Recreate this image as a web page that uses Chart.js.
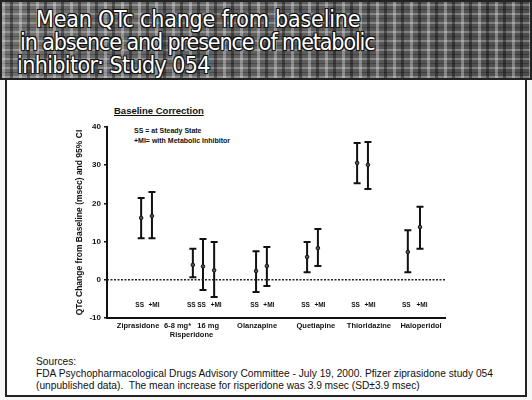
<!DOCTYPE html>
<html>
<head>
<meta charset="utf-8">
<script src="https://cdn.jsdelivr.net/npm/chart.js@4.4.0/dist/chart.umd.min.js"></script>
<style>
  html, body { margin: 0; padding: 0; background: #fff; }
  #slide { position: relative; width: 532px; height: 400px; overflow: hidden; background: #f6f6f6; font-family: "Liberation Sans", Arial, sans-serif; color: #111; }
  #banner {
    position: absolute; left: 0; top: 0; width: 532px; height: 80px; box-sizing: border-box;
    border: 2px solid #222;
    background:
      repeating-linear-gradient(90deg, rgba(255,255,255,0.32) 0 3px, transparent 3px 8px, rgba(0,0,0,0.38) 8px 11px, transparent 11px 17px),
      repeating-linear-gradient(0deg, rgba(255,255,255,0.27) 0 2px, transparent 2px 5px, rgba(0,0,0,0.24) 5px 6px, transparent 6px 9px),
      linear-gradient(90deg, #6e6e6e, #5c5c5c 60%, #4c4c4c);
  }
  #banner div {
    position: absolute; color: #fff; font-family: "DejaVu Sans Condensed", "DejaVu Sans", sans-serif;
    font-size: 23px; line-height: 23px; white-space: nowrap;
    text-shadow: -1px -1px 0 #111, 1px -1px 0 #111, -1px 1px 0 #111, 1px 1px 0 #111, 0 0 2px #000;
  }
  #panel { position: absolute; left: 5px; top: 80px; width: 522px; height: 317px; box-sizing: border-box; background: #fff; border: 2px solid #222; border-top: none; }
  #sub { position: absolute; left: 114px; top: 105px; font-size: 9.5px; font-weight: bold; text-decoration: underline; }
  .leg { position: absolute; left: 134px; font-size: 7px; font-weight: bold; white-space: nowrap; }
  .src { position: absolute; left: 36px; font-size: 10.2px; white-space: nowrap; }
  canvas { position: absolute; left: 0; top: 0; }
</style>
</head>
<body>
<div id="slide">
  <div id="banner">
    <div style="left:34px; top:6px; letter-spacing:-0.2px;">Mean QTc change from baseline</div>
    <div style="left:18px; top:29px; letter-spacing:-1.1px;">in absence and presence of metabolic</div>
    <div style="left:15px; top:52px; letter-spacing:-0.6px;">inhibitor: Study 054</div>
  </div>
  <div id="panel"></div>
  <div id="sub">Baseline Correction</div>
  <div class="leg" style="top:127px;">SS = at Steady State</div>
  <div class="leg" style="top:137px;">+MI= with Metabolic Inhibitor</div>
  <div class="src" style="top:356px;">Sources:</div>
  <div class="src" style="top:368px;">FDA Psychopharmacological Drugs Advisory Committee - July 19, 2000. Pfizer ziprasidone study 054</div>
  <div class="src" style="top:380px;">(unpublished data).&nbsp; The mean increase for risperidone was 3.9 msec (SD&plusmn;3.9 msec)</div>
  <canvas id="chart" width="532" height="400"></canvas>
</div>
<script>
// bar positions along the x axis (0-100 scale) and their values
const barX = [10.1, 13.3, 25.4, 28.4, 31.7, 44.1, 47.3, 59.2, 62.4, 74.0, 77.2, 89.0, 92.6];
const barMean = [16.2, 16.7, 3.9, 3.5, 2.5, 2.3, 3.6, 6.0, 8.3, 30.6, 30.1, 7.3, 13.8];
const barLow = [10.9, 10.9, 0.7, -2.7, -4.5, -3.2, -1.6, 2.0, 3.6, 25.3, 23.8, 2.0, 8.1];
const barHigh = [21.4, 23.0, 8.1, 10.7, 9.9, 7.5, 8.6, 9.9, 13.3, 35.8, 36.1, 13.0, 19.1];
const barTag = ['SS', '+MI', 'SS', 'SS', '+MI', 'SS', '+MI', 'SS', '+MI', 'SS', '+MI', 'SS', '+MI'];
const tagLevel = -6.6;

const groupX = [9.2, 25.0, 44.4, 61.8, 77.5, 92.9];
const groupLabels = ['Ziprasidone', ['6-8 mg*   16 mg', 'Risperidone'], 'Olanzapine', 'Quetiapine', 'Thioridazine', 'Haloperidol'];

const yTicks = [-10, 0, 10, 20, 30, 40];
const xRange = [0, 100];
const zeroLine = [0, 0];

const errorBars = {
  id: 'errorBars',
  beforeDatasetsDraw(chart) {
    const { ctx, scales: { x, y } } = chart;
    ctx.save();
    ctx.strokeStyle = '#111';
    ctx.lineWidth = 2;
    barX.forEach((bx, i) => {
      const px = x.getPixelForValue(bx);
      const top = y.getPixelForValue(barHigh[i]);
      const bot = y.getPixelForValue(barLow[i]);
      ctx.beginPath();
      ctx.moveTo(px, top); ctx.lineTo(px, bot);
      ctx.moveTo(px - 3.5, top); ctx.lineTo(px + 3.5, top);
      ctx.moveTo(px - 3.5, bot); ctx.lineTo(px + 3.5, bot);
      ctx.stroke();
    });
    // SS / +MI tags just above the x axis
    ctx.font = 'bold 6.5px "Liberation Sans", Arial, sans-serif';
    ctx.textAlign = 'center';
    ctx.textBaseline = 'middle';
    ctx.fillStyle = '#111';
    barX.forEach((bx, i) => {
      const nudge = barTag[i] === 'SS' ? -1.5 : 2;
      ctx.fillText(barTag[i], x.getPixelForValue(bx) + nudge, y.getPixelForValue(tagLevel));
    });
    ctx.restore();
  }
};

new Chart(document.getElementById('chart'), {
  type: 'scatter',
  data: {
    datasets: [
      {
        type: 'line',
        data: xRange.map((v, i) => ({ x: v, y: zeroLine[i] })),
        borderColor: '#222',
        borderWidth: 1.6,
        borderDash: [2, 1.5],
        pointRadius: 0
      },
      {
        data: barX.map((v, i) => ({ x: v, y: barMean[i] })),
        pointStyle: 'circle',
        pointRadius: 1.8,
        backgroundColor: '#555',
        borderColor: '#111',
        borderWidth: 1
      }
    ]
  },
  options: {
    responsive: false,
    animation: false,
    events: [],
    layout: { padding: { top: 127, left: 75, right: 87, bottom: 52 } },
    plugins: { legend: { display: false }, tooltip: { enabled: false } },
    scales: {
      x: {
        type: 'linear',
        min: xRange[0],
        max: xRange[1],
        afterFit: (scale) => { scale.height = 30; },
        afterBuildTicks: (scale) => { scale.ticks = groupX.map(v => ({ value: v })); },
        grid: { display: false, drawTicks: false },
        border: { display: true, color: '#111', width: 2 },
        ticks: {
          autoSkip: false,
          maxRotation: 0,
          padding: 4,
          color: '#111',
          font: { family: '"Liberation Sans", Arial, sans-serif', size: 7.5, weight: 'bold', lineHeight: 1.15 },
          callback: (value, index) => groupLabels[index]
        }
      },
      y: {
        min: yTicks[0],
        max: yTicks[yTicks.length - 1],
        afterFit: (scale) => { scale.width = 32; },
        afterBuildTicks: (scale) => { scale.ticks = yTicks.map(v => ({ value: v })); },
        grid: { display: true, drawOnChartArea: false, drawTicks: true, tickLength: 3, color: '#111', lineWidth: 1.5 },
        border: { display: true, color: '#111', width: 2 },
        ticks: {
          padding: 3,
          color: '#111',
          font: { family: '"Liberation Sans", Arial, sans-serif', size: 8, weight: 'bold' }
        },
        title: {
          display: true,
          text: 'QTc Change from Baseline (msec) and 95% CI',
          color: '#111',
          padding: 0,
          font: { family: '"Liberation Sans", Arial, sans-serif', size: 8.5, weight: 'bold' }
        }
      }
    }
  },
  plugins: [errorBars]
});
</script>
</body>
</html>
